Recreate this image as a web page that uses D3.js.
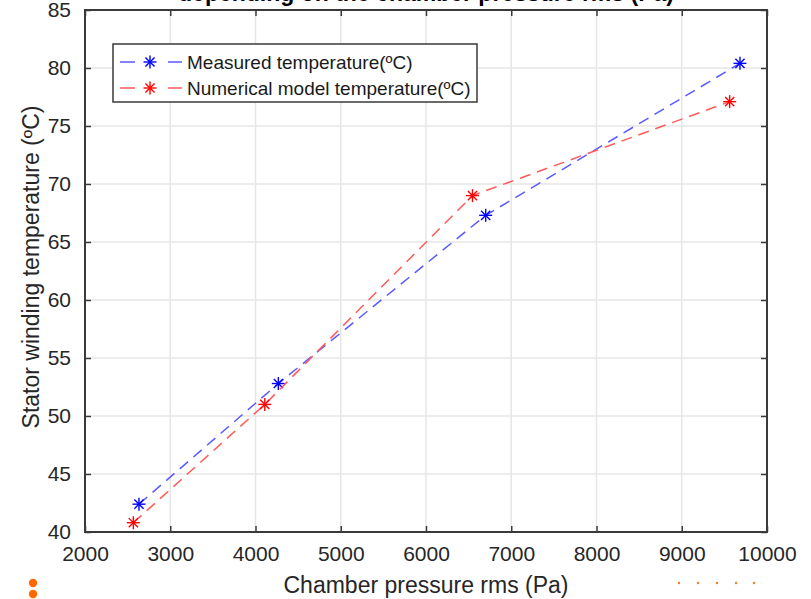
<!DOCTYPE html>
<html>
<head>
<meta charset="utf-8">
<script src="https://cdn.jsdelivr.net/npm/d3@7/dist/d3.min.js"></script>
<style>
  html, body { margin: 0; padding: 0; background: #fff; }
  svg { display: block; font-family: "Liberation Sans", Arial, sans-serif; }
</style>
</head>
<body>
<svg id="chart" width="811" height="599"></svg>
<script>
// Chamber pressure (Pa) and stator winding temperature (ºC)
const measuredPressure = [2633, 4268, 6700, 9683];
const measuredTemp     = [42.4, 52.8, 67.3, 80.4];
const modelPressure    = [2567, 4109, 6545, 9562];
const modelTemp        = [40.8, 51.0, 69.0, 77.1];

const xTicks = [2000, 3000, 4000, 5000, 6000, 7000, 8000, 9000, 10000];
const yTicks = [40, 45, 50, 55, 60, 65, 70, 75, 80, 85];

const seriesNames = ["Measured temperature(ºC)", "Numerical model temperature(ºC)"];
const seriesColors = ["#0000ff", "#ff0000"];
const lineColors = ["#5a5aff", "#ff5a5a"];

const svg = d3.select("#chart");
const W = 811, H = 599;
const plot = { left: 85, right: 767, top: 10, bottom: 532 };

const x = d3.scaleLinear().domain([2000, 10000]).range([plot.left, plot.right]);
const y = d3.scaleLinear().domain([40, 85]).range([plot.bottom, plot.top]);

svg.append("rect").attr("width", W).attr("height", H).attr("fill", "#fff");

// grid
const grid = svg.append("g");
grid.selectAll("line.gx").data(xTicks).join("line")
  .attr("x1", d => x(d)).attr("x2", d => x(d))
  .attr("y1", plot.top).attr("y2", plot.bottom)
  .attr("stroke", "#e6e6e6").attr("stroke-width", 1.5);
grid.selectAll("line.gy").data(yTicks).join("line")
  .attr("x1", plot.left).attr("x2", plot.right)
  .attr("y1", d => y(d)).attr("y2", d => y(d))
  .attr("stroke", "#e6e6e6").attr("stroke-width", 1.5);

// axes (ticks pointing inward, mirrored on top and right)
const axisColor = "#3a3a3a";
const tickFont = 21;
const fmt = d3.format("d");
const bottomAxis = d3.axisBottom(x).tickValues(xTicks).tickFormat(fmt).tickSizeInner(-6).tickSizeOuter(0).tickPadding(14);
const leftAxis = d3.axisLeft(y).tickValues(yTicks).tickFormat(fmt).tickSizeInner(-6).tickSizeOuter(0).tickPadding(14);
const topAxis = d3.axisTop(x).tickValues(xTicks).tickSizeInner(-6).tickSizeOuter(0).tickFormat("");
const rightAxis = d3.axisRight(y).tickValues(yTicks).tickSizeInner(-6).tickSizeOuter(0).tickFormat("");

function styleAxis(g) {
  g.select(".domain").remove();
  g.selectAll(".tick line").attr("stroke", axisColor).attr("stroke-width", 1.5);
  g.selectAll(".tick text").attr("fill", "#262626").style("font-size", tickFont + "px")
    .style("font-family", "'Liberation Sans', Arial, sans-serif");
}

svg.append("g").attr("transform", `translate(0,${plot.bottom})`).call(bottomAxis).call(styleAxis);
svg.append("g").attr("transform", `translate(${plot.left},0)`).call(leftAxis).call(styleAxis);
svg.append("g").attr("transform", `translate(0,${plot.top})`).call(topAxis).call(styleAxis);
svg.append("g").attr("transform", `translate(${plot.right},0)`).call(rightAxis).call(styleAxis);

// frame
svg.append("rect")
  .attr("x", plot.left).attr("y", plot.top)
  .attr("width", plot.right - plot.left).attr("height", plot.bottom - plot.top)
  .attr("fill", "none").attr("stroke", axisColor).attr("stroke-width", 2);

// asterisk marker
function star(sel, cx, cy, r, color) {
  const g = sel.append("g").attr("transform", `translate(${cx},${cy})`)
    .attr("stroke", color).attr("stroke-width", 1.4);
  for (let k = 0; k < 4; k++) {
    const a = k * Math.PI / 4;
    g.append("line")
      .attr("x1", -r * Math.cos(a)).attr("y1", -r * Math.sin(a))
      .attr("x2", r * Math.cos(a)).attr("y2", r * Math.sin(a));
  }
}

const series = [
  { px: measuredPressure, ty: measuredTemp },
  { px: modelPressure, ty: modelTemp }
];

const line = d3.line().x(d => x(d[0])).y(d => y(d[1]));
series.forEach((s, i) => {
  const pts = s.px.map((p, j) => [p, s.ty[j]]);
  svg.append("path").datum(pts)
    .attr("d", line)
    .attr("fill", "none")
    .attr("stroke", lineColors[i])
    .attr("stroke-width", 1.5)
    .attr("stroke-dasharray", "11,7");
  pts.forEach(p => star(svg, x(p[0]), y(p[1]), 6.5, seriesColors[i]));
});

// legend
const lg = svg.append("g");
lg.append("rect").attr("x", 113).attr("y", 44).attr("width", 364).attr("height", 58)
  .attr("fill", "#fff").attr("stroke", "#3a3a3a").attr("stroke-width", 1.5);
seriesNames.forEach((name, i) => {
  const cy = 62 + i * 26;
  lg.append("line").attr("x1", 120).attr("x2", 135).attr("y1", cy).attr("y2", cy)
    .attr("stroke", lineColors[i]).attr("stroke-width", 1.5);
  lg.append("line").attr("x1", 168).attr("x2", 182).attr("y1", cy).attr("y2", cy)
    .attr("stroke", lineColors[i]).attr("stroke-width", 1.5);
  star(lg, 150, cy, 6.5, seriesColors[i]);
  lg.append("text").attr("x", 187).attr("y", cy + 7)
    .attr("fill", "#1a1a1a").style("font-size", "19px")
    .text(name);
});

// title (second line, cut by the top edge)
svg.append("text").attr("x", (plot.left + plot.right) / 2).attr("y", 1)
  .attr("text-anchor", "middle").attr("font-weight", "bold")
  .attr("fill", "#000").style("font-size", "23px")
  .text("depending on the chamber pressure rms (Pa)");

// axis labels
svg.append("text").attr("x", (plot.left + plot.right) / 2).attr("y", 593)
  .attr("text-anchor", "middle").attr("fill", "#262626").style("font-size", "23px")
  .text("Chamber pressure rms (Pa)");
svg.append("text").attr("transform", `translate(39,${(plot.top + plot.bottom) / 2 - 4}) rotate(-90)`)
  .attr("text-anchor", "middle").attr("fill", "#262626").style("font-size", "23px")
  .text("Stator winding temperature (ºC)");

// orange dot decorations
const bigDots = [583, 594];
svg.selectAll("circle.big").data(bigDots).join("circle")
  .attr("cx", 33).attr("cy", d => d).attr("r", 4.2).attr("fill", "#ff6a00");
const smallDots = [679, 698, 717, 736, 754];
svg.selectAll("circle.small").data(smallDots).join("circle")
  .attr("cx", d => d).attr("cy", 583).attr("r", 1.2).attr("fill", "#ff7a1a");
</script>
</body>
</html>
